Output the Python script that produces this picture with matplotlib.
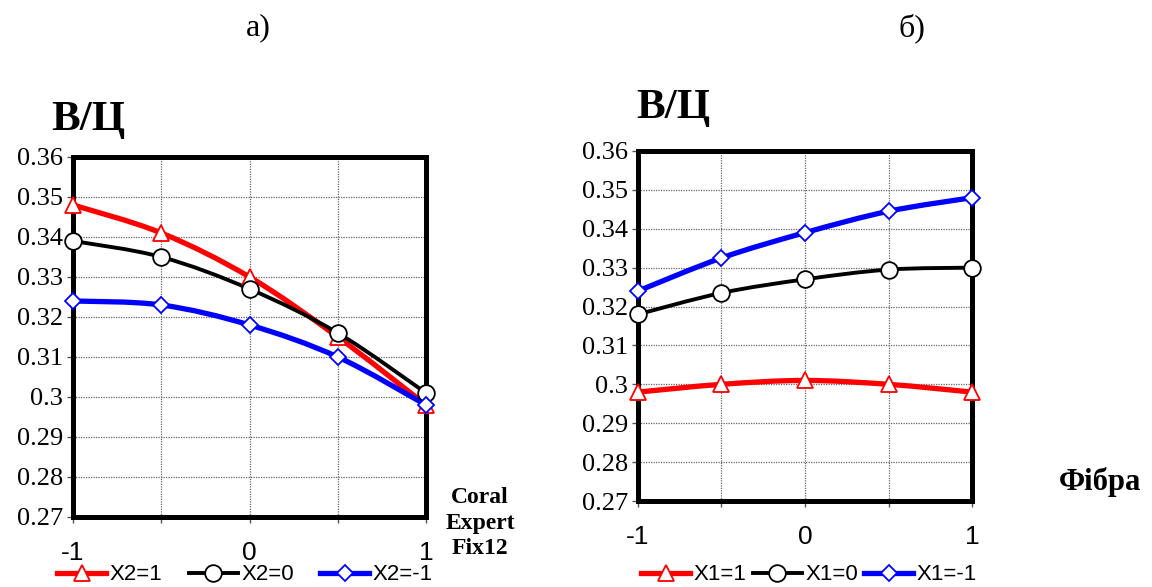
import numpy as np
import matplotlib
matplotlib.use("Agg")
import matplotlib.pyplot as plt
from matplotlib.path import Path
from matplotlib.patches import PathPatch
from matplotlib.lines import Line2D

# factor levels along x
x_levels = [-1, -0.5, 0, 0.5, 1]

# left panel: В/Ц vs Coral Expert Fix12
left_labels = ["X2=1", "X2=0", "X2=-1"]
left_x2_p1 = [0.348, 0.341, 0.330, 0.315, 0.298]
left_x2_0 = [0.339, 0.335, 0.327, 0.316, 0.301]
left_x2_m1 = [0.324, 0.323, 0.318, 0.310, 0.298]

# right panel: В/Ц vs Фібра
right_labels = ["X1=1", "X1=0", "X1=-1"]
right_x1_p1 = [0.298, 0.300, 0.301, 0.300, 0.298]
right_x1_0 = [0.318, 0.3235, 0.327, 0.3295, 0.330]
right_x1_m1 = [0.324, 0.3325, 0.339, 0.3445, 0.348]

y_ticks = [0.27, 0.28, 0.29, 0.30, 0.31, 0.32, 0.33, 0.34, 0.35, 0.36]
y_ticklabels = ["0.27", "0.28", "0.29", "0.3", "0.31", "0.32", "0.33", "0.34", "0.35", "0.36"]
x_ticklabels = ["-1", "", "0", "", "1"]

SERIF = "Liberation Serif"
SANS = "Liberation Sans"

# colour, line width, marker, marker size
styles = [("#ff0000", 3.8, "^", 11),
          ("#000000", 2.8, "o", 12),
          ("#0000ff", 3.8, "D", 8)]


def smooth_path(xs, ys):
    # cubic bezier through the points (Catmull-Rom style tangents)
    p = np.column_stack([xs, ys]).astype(float)
    n = len(p)
    verts = [p[0]]
    codes = [Path.MOVETO]
    for i in range(n - 1):
        p0 = p[i - 1] if i > 0 else p[i]
        p3 = p[i + 2] if i + 2 < n else p[i + 1]
        c1 = p[i] + (p[i + 1] - p0) / 6.0
        c2 = p[i + 1] - (p3 - p[i]) / 6.0
        verts += [c1, c2, p[i + 1]]
        codes += [Path.CURVE4] * 3
    return Path(verts, codes)


def panel(ax, series, labels, xname, xname_pos, xname_size, legend_x, colspace):
    handles = []
    for ys, lab, (col, lw, mk, ms) in zip(series, labels, styles):
        ax.add_patch(PathPatch(smooth_path(x_levels, ys), facecolor="none",
                               edgecolor=col, lw=lw, zorder=3, clip_on=False))
        ax.plot(x_levels, ys, linestyle="none", marker=mk, ms=ms,
                markerfacecolor="white", markeredgecolor=col, mew=1.3,
                zorder=4, clip_on=False)
        handles.append(Line2D([], [], color=col, lw=lw, marker=mk, ms=ms,
                              markerfacecolor="white", markeredgecolor=col,
                              mew=1.3))
    ax.set_xlim(-1, 1)
    ax.set_ylim(0.27, 0.36)
    ax.set_xticks(x_levels)
    ax.set_xticklabels(x_ticklabels, fontfamily=SANS, fontsize=19)
    ax.set_yticks(y_ticks)
    ax.set_yticklabels(y_ticklabels, fontfamily=SERIF, fontsize=19)
    ax.tick_params(axis="both", direction="out", length=4, width=1, color="#555555")
    ax.tick_params(axis="x", pad=13)
    ax.tick_params(axis="y", pad=3)
    ax.grid(True, color="#666666", linestyle=(0, (1, 1)), lw=0.9)
    ax.set_axisbelow(True)
    for s in ax.spines.values():
        s.set_linewidth(3.6)
        s.set_color("black")
    ax.text(xname_pos[0], xname_pos[1], xname, transform=ax.transAxes,
            fontfamily=SERIF, fontweight="bold", fontsize=xname_size,
            ha="center", va="center", linespacing=1.3)
    fig.legend(handles, labels, loc="center", bbox_to_anchor=(legend_x, 1 - 575 / 587),
               ncol=3, frameon=False, prop={"family": SANS, "size": 16},
               handlelength=2.2, handletextpad=0.15, columnspacing=colspace,
               borderaxespad=0)


fig = plt.figure(figsize=(11.52, 5.87), dpi=100)

ax1 = fig.add_axes([0.0634, 0.1193, 0.3064, 0.6133])
panel(ax1, [left_x2_p1, left_x2_0, left_x2_m1], left_labels,
      "Coral\nExpert\nFix12", (1.153, -0.017), 17, 245 / 1152, 1.2)

ax2 = fig.add_axes([0.5538, 0.1465, 0.2900, 0.5963])
panel(ax2, [right_x1_p1, right_x1_0, right_x1_m1], right_labels,
      "Фібра", (1.383, 0.054), 22, 809 / 1152, 0.3)

fig.text(51 / 1152, 1 - 120 / 587, "В/Ц", fontfamily=SERIF, fontweight="bold",
         fontsize=31, ha="left", va="center")
fig.text(636 / 1152, 1 - 108 / 587, "В/Ц", fontfamily=SERIF, fontweight="bold",
         fontsize=31, ha="left", va="center")
fig.text(258 / 1152, 1 - 28 / 587, "а)", fontfamily=SERIF, fontsize=23,
         ha="center", va="center")
fig.text(912 / 1152, 1 - 28 / 587, "б)", fontfamily=SERIF, fontsize=23,
         ha="center", va="center")

fig.savefig("out.png", dpi=100)
